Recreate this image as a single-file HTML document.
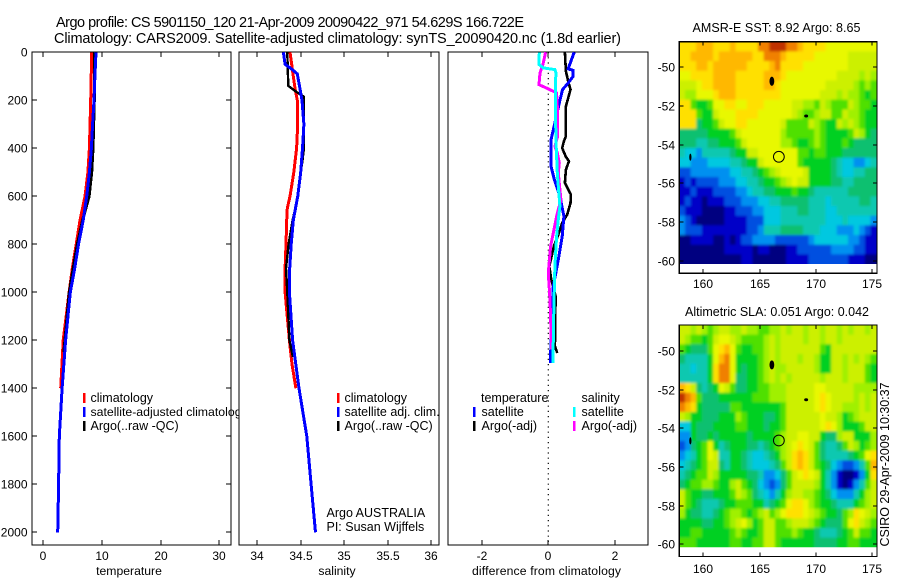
<!DOCTYPE html>
<html>
<head>
<meta charset="utf-8">
<title>Argo profile</title>
<style>
html,body{margin:0;padding:0;background:#fff;width:900px;height:580px;overflow:hidden}
svg{display:block}
text{font-family:"Liberation Sans",sans-serif;font-size:12.5px;fill:#000}
.t{font-size:14.5px}
.m{font-size:12.5px}
.k{font-size:12px}
.a{font-size:12.2px}
.f{fill:#fff;stroke:#000;stroke-width:1.3;shape-rendering:crispEdges}
</style>
</head>
<body>
<svg id="c" width="900" height="580" viewBox="0 0 900 580" xmlns="http://www.w3.org/2000/svg">
  <defs>
    <filter id="soft" x="-5%" y="-5%" width="110%" height="110%">
      <feGaussianBlur stdDeviation="1.2"/>
      <feComponentTransfer><feFuncA type="linear" slope="3"/></feComponentTransfer>
    </filter>
  </defs>
  <rect width="900" height="580" fill="#fff"/>
  <text class="t" x="56" y="27" textLength="468">Argo profile: CS 5901150_120 21-Apr-2009 20090422_971 54.629S 166.722E</text>
  <text class="t" x="54" y="43" textLength="567">Climatology: CARS2009. Satellite-adjusted climatology: synTS_20090420.nc (1.8d earlier)</text>

  <g>
    <rect class="f" x="32" y="52" width="199" height="493"/>
    <g id="p1"></g>
    <g>
      <rect x="83" y="393" width="2.5" height="10" fill="#f00"/>
      <rect x="83" y="407" width="2.5" height="10" fill="#00f"/>
      <rect x="83" y="421" width="2.5" height="10" fill="#000"/>
      <text x="90.5" y="402">climatology</text>
      <text x="90.5" y="416" style="font-size:12.3px">satellite-adjusted climatology</text>
      <text x="90.5" y="430">Argo(..raw -QC)</text>
    </g>
    <text class="a" x="129" y="575" text-anchor="middle">temperature</text>
  </g>

  <g>
    <rect class="f" x="239" y="52" width="200" height="493"/>
    <g id="p2"></g>
    <g>
      <rect x="337" y="393" width="2.5" height="10" fill="#f00"/>
      <rect x="337" y="407" width="2.5" height="10" fill="#00f"/>
      <rect x="337" y="421" width="2.5" height="10" fill="#000"/>
      <text x="344.5" y="402">climatology</text>
      <text x="344.5" y="416">satellite adj. clim.</text>
      <text x="344.5" y="430">Argo(..raw -QC)</text>
    </g>
    <text x="326.5" y="517">Argo AUSTRALIA</text>
    <text x="326.5" y="531">PI: Susan Wijffels</text>
    <text class="a" x="337" y="575" text-anchor="middle">salinity</text>
  </g>

  <g>
    <rect class="f" x="448" y="52" width="200" height="493"/>
    <g id="p3"></g>
    <g>
      <text x="481" y="402">temperature</text>
      <rect x="473" y="407" width="2.5" height="10" fill="#00f"/>
      <text x="481.5" y="416">satellite</text>
      <rect x="473" y="421" width="2.5" height="10" fill="#000"/>
      <text x="481.5" y="430">Argo(-adj)</text>
      <text x="581.5" y="402">salinity</text>
      <rect x="573" y="407" width="2.5" height="10" fill="#0ff"/>
      <text x="581.5" y="416">satellite</text>
      <rect x="573" y="421" width="2.5" height="10" fill="#f0f"/>
      <text x="581.5" y="430">Argo(-adj)</text>
    </g>
    <text class="a" x="472" y="575" textLength="149">difference from climatology</text>
  </g>

  <g>
    <text class="m" x="692.5" y="32" textLength="168">AMSR-E SST: 8.92 Argo: 8.65</text>
    <g id="m1"></g>
  </g>
  <g>
    <text class="m" x="685" y="316" textLength="184">Altimetric SLA: 0.051 Argo: 0.042</text>
    <g id="m2"></g>
  </g>
  <text transform="translate(889,546.5) rotate(-90)" textLength="164">CSIRO 29-Apr-2009 10:30:37</text>
</svg>

<script>
// ---- profile data (depth in dbar) ----
const tempClimDepth = [0,200,400,500,600,700,800,900,1000,1200,1400];
const tempClim = [8.25,8.08,7.85,7.6,7.1,6.25,5.6,4.95,4.4,3.4,2.97];
const tempSatDepth = [0,100,200,300,400,500,600,700,800,900,1000,1200,1400,1600,1800,2000];
const tempSat = [8.98,8.8,8.65,8.4,8.2,7.85,7.4,6.8,6.0,5.35,4.6,3.8,3.2,2.73,2.6,2.45];
const tempArgoDepth = [0,200,400,500,600,700,800,900,1000,1250];
const tempArgo = [8.75,8.7,8.47,8.25,7.8,6.7,5.8,5.1,4.43,3.5];

const salClimDepth = [0,50,100,150,200,300,400,500,600,650,700,800,900,1000,1200,1300,1400];
const salClim = [34.376,34.396,34.415,34.434,34.46,34.465,34.453,34.42,34.377,34.345,34.338,34.33,34.32,34.32,34.37,34.40,34.445];
const salSatDepth = [0,50,70,90,150,200,300,400,500,600,700,800,900,1000,1200,1400,1600,1800,2000];
const salSat = [34.30,34.32,34.396,34.46,34.49,34.515,34.537,34.52,34.50,34.465,34.415,34.39,34.373,34.37,34.407,34.48,34.57,34.62,34.67];
const salArgoDepth = [0,100,140,165,185,400,450,500,600,700,800,900,1000,1200,1270];
const salArgo = [34.345,34.354,34.357,34.45,34.537,34.537,34.52,34.50,34.47,34.407,34.36,34.33,34.345,34.37,34.41];

const dtDepth = [0,79,121,155,190,225,350,371,399,433,454,489,544,593,628,676,711,760,808,892,947,1017,1225,1253];
const dtArgo = [0.50,0.53,0.60,0.67,0.60,0.53,0.53,0.47,0.42,0.52,0.62,0.53,0.50,0.68,0.67,0.57,0.42,0.30,0.17,0.03,0.09,0.22,0.20,0.27];
const dtSatDepth = [0,37,69,75,100,128,155,211,294,364,475,530,600,683,767,864,975,1058,1294];
const dtSat = [0.78,0.68,0.60,0.75,0.75,0.60,0.43,0.33,0.20,0.08,0.08,0.18,0.35,0.47,0.42,0.30,0.15,0.12,0.06];
const dsSatDepth = [0,51,65,72,86,155,364,503,642,697,767,892,1058,1294];
const dsSat = [-0.27,-0.28,-0.15,0.20,0.23,0.21,0.23,0.27,0.35,0.30,0.25,0.20,0.17,0.14];
const dsArgoDepth = [0,44,86,135,149,169,225,350,392,419,461,503,572,614,683,753,808,919,1031,1239];
const dsArgo = [-0.08,-0.15,-0.25,-0.28,-0.05,0.25,0.27,0.28,0.20,0.27,0.33,0.30,0.35,0.38,0.25,0.15,0.07,0,0.05,0.10];

const depthTicks = [0,200,400,600,800,1000,1200,1400,1600,1800,2000];
const tempTicks = [0,10,20,30];
const salTicks = [34,34.5,35,35.5,36];
const diffTicks = [-2,0,2];
const lonTicks = [160,165,170,175];
const latTicks = [50,52,54,56,58,60];

// ---- map colour levels: 0 = lowest ... f = highest; rows run north to south, columns west to east ----
const sstRows = [
"cccdddcccdcccceefffeedccccbbbbbbbbb",
"ccddddcddddddcceeedcccccbbbbbbaaaaa",
"cccddcddddddccccdeccccbbbbbbbbaaaaa",
"bbccccddddcccccdddcbbbbbbbbbaaaa9a9",
"aaabccddddcccccddcbbbbbbbbaaaaa9898",
"a99bbbcdddccccccccbbbbbbbaaa9a99878",
"cc8778bbccbbcccbbbbbaa998a9888a9887",
"ccc877abbbccccbbbbbba9889aa88a99877",
"ccc6778abbccbbbbbba8888a9877a9a9877",
"6666677778abbbbbbb9888889877778a976",
"66655667778abbbbbb99877898777876666",
"544355555677aabbbbbbb88788777666666",
"44333444455677abbbbbb87777765443345",
"22333333344556789abbbba777765445566",
"1212222333445567789abaa777766556666",
"11211122223345566777877655555566666",
"12110111222333445566666555455555665",
"21110000112223344455566555445555555",
"32100000111122244455555555444544443",
"32221111111122355566665554443334321",
"00111100101223333222222344444433211",
"00000000111110110001122222233332211",
"00000000000110000001111222222211100"
];
const slaRows = [
"aa9a989aa99a998899a9aa9aa9aa9a9aa9a",
"a98878abba98888" + "9a9aaaa9aa9aa9aaaaaa",
"876668bcdb87788" + "9a9aaaaaaa87aaaaaaa",
"655557bdeb77778" + "9a9aaa9aa977aa9a9a98",
"554557ceeb76778" + "9a99aaaaa977aa9aaa87",
"555557ceeb66778" + "9a9a9aaaaa9aaa9aaa87",
"dca6567ba866778" + "8999aaaaabbaaaaa9999",
"fed8666777777" + "88" + "8999aaaaabcbaaaa9a9a",
"edc7666668" + "87777" + "7778aaaaabcbaa999a9a",
"a977666777" + "98777" + "6678aaaaaabaa9789aaa",
"447666777788777" + "6778aaaaaabcb97778aa",
"337667677777677" + "7789aabbaa7669aa7779",
"23678b756777665" + "6789abcba865568a9789",
"34578ba5577654" + "4" + "5679acdca865555678bc",
"45678aa6577654" + "4" + "4568acdca87643223 58d".split(" ").join(""),
"56788a97777766" + "5" + "33468abcba753100137c",
"678899877" + "9a87" + "6432368aaaa975310" + "1358a",
"a877667778a986" + "5" + "43579aa99876433" + "3579a",
"a87655567788877" + "5678bccb98776555789a",
"976655678998789" + "a89bcccba9877689cba9".slice(0,20),
"7777667789ab978" + "aa889aaa9876668bca98",
"778877777898778" + "aa88898776555678a887",
"888777777887788" + "aa87777776666778877 7".split(" ").join("")
];
const levelColors = {"0":"#000080","1":"#0000c8","2":"#0050e0","3":"#0090f0","4":"#00c8e0","5":"#10c8b0","6":"#10c070","7":"#00d020","8":"#50e000","9":"#a0f000","a":"#ccf000","b":"#e8f800","c":"#ffe000","d":"#ffb800","e":"#f08000","f":"#c03000"};

const SVGNS = "http://www.w3.org/2000/svg";
const DEPTH_TOP = 52.3, DEPTH_SCALE = 0.24;
const yDepth = d => DEPTH_TOP + d * DEPTH_SCALE;

function make(tag, parent, attrs, txt) {
  const el = document.createElementNS(SVGNS, tag);
  for (const k in attrs) el.setAttribute(k, attrs[k]);
  if (txt !== undefined) el.textContent = txt;
  parent.appendChild(el);
  return el;
}

function drawSeries(parent, name, depths, vals, xf, color, w) {
  const pts = depths.map((d, i) => xf(vals[i]).toFixed(1) + "," + yDepth(d).toFixed(1)).join(" ");
  const el = make("polyline", parent, {points: pts, fill: "none", stroke: color, "stroke-width": w, "shape-rendering": "crispEdges"});
  
  
}

function line(parent, name, x1, y1, x2, y2) {
  const el = make("line", parent, {x1, y1, x2, y2, stroke: "#000", "stroke-width": 1, "shape-rendering": "crispEdges"});
  
  
}

function label(parent, name, x, y, anchor, s) {
  const el = make("text", parent, {x, y, "text-anchor": anchor, class: "k"}, s);
  
  
}

function xAxis(parent, ticks, xf, top, bottom) {
  ticks.forEach(t => {
    const x = Math.round(xf(t));
    line(parent, "x-tick-top", x, top, x, top + 5);
    line(parent, "x-tick-bottom", x, bottom - 5, x, bottom);
    label(parent, "x-tick-label", x, 560, "middle", String(t));
  });
}

// Temperature
const xTemp = v => 43.3 + v * 5.867;
const p1 = document.getElementById("p1");
drawSeries(p1, "temperature-climatology-line", tempClimDepth, tempClim, xTemp, "#f00", 3);
drawSeries(p1, "temperature-argo-line", tempArgoDepth, tempArgo, xTemp, "#000", 3);
drawSeries(p1, "temperature-satellite-line", tempSatDepth, tempSat, xTemp, "#00f", 3);
xAxis(p1, tempTicks, xTemp, 52, 545);
depthTicks.forEach(d => {
  const y = Math.round(yDepth(d));
  line(p1, "depth-tick-left", 32, y, 37, y);
  line(p1, "depth-tick-right", 226, y, 231, y);
  label(p1, "depth-tick-label", 27.5, y + 4.5, "end", String(d));
});

// Salinity
const xSal = v => 257.3 + (v - 34) * 86.85;
const p2 = document.getElementById("p2");
drawSeries(p2, "salinity-climatology-line", salClimDepth, salClim, xSal, "#f00", 3);
drawSeries(p2, "salinity-argo-line", salArgoDepth, salArgo, xSal, "#000", 2.4);
drawSeries(p2, "salinity-satellite-line", salSatDepth, salSat, xSal, "#00f", 3);
xAxis(p2, salTicks, xSal, 52, 545);

// Difference
const xDiff = v => 548.3 + v * 33.2;
const p3 = document.getElementById("p3");
const zero = make("line", p3, {x1: xDiff(0), y1: 52, x2: xDiff(0), y2: 545, stroke: "#000", "stroke-width": 1.2, "stroke-dasharray": "1.2 4"});


drawSeries(p3, "difference-temperature-argo-line", dtDepth, dtArgo, xDiff, "#000", 2.6);
drawSeries(p3, "difference-temperature-satellite-line", dtSatDepth, dtSat, xDiff, "#00f", 3);
drawSeries(p3, "difference-salinity-argo-line", dsArgoDepth, dsArgo, xDiff, "#f0f", 3);
drawSeries(p3, "difference-salinity-satellite-line", dsSatDepth, dsSat, xDiff, "#0ff", 3);
xAxis(p3, diffTicks, xDiff, 52, 545);

// Maps
function drawMap(parent, id, rows, top, lat50y, labelY) {
  const xLon = lon => 703.3 + (lon - 160) * 11.24;
  const yLat = lat => lat50y + (lat - 50) * 19.33;
  const box = {l: 679.3, r: 877, t: top, b: top + 231.5};
  const latTop = 50 - (lat50y - top) / 19.33;
  const dataBottom = yLat(latTop + rows.length * 0.5);
  const clip = make("clipPath", parent, {id: id + "-clip"});
  make("rect", clip, {x: box.l, y: box.t, width: box.r - box.l, height: dataBottom - box.t});
  const clipG = make("g", parent, {"clip-path": "url(#" + id + "-clip)"});
  
  
  const cells = make("g", clipG, {filter: "url(#soft)"});
  
  
  rows.forEach((row, i) => {
    for (let j = 0; j < 35; j++) {
      const ch = row.charAt(Math.min(j, row.length - 1));
      const x0 = xLon(157.87 + j * 0.5), x1 = xLon(157.87 + (j + 1) * 0.5);
      const y0 = yLat(latTop + i * 0.5), y1 = yLat(latTop + (i + 1) * 0.5);
      const cell = make("rect", cells, {x: x0.toFixed(1), y: y0.toFixed(1), width: (x1 - x0 + 0.4).toFixed(1), height: (y1 - y0 + 0.4).toFixed(1), fill: levelColors[ch]});
      
      
    }
  });
  const frame = make("rect", parent, {x: box.l, y: box.t, width: box.r - box.l, height: box.b - box.t, fill: "none", stroke: "#000", "stroke-width": 1.3, "shape-rendering": "crispEdges"});
  
  
  lonTicks.forEach(t => {
    const x = Math.round(xLon(t));
    line(parent, "lon-tick-top", x, box.t, x, box.t + 4);
    line(parent, "lon-tick-bottom", x, box.b - 4, x, box.b);
    label(parent, "lon-tick-label", x, labelY, "middle", String(t));
  });
  latTicks.forEach(t => {
    const y = Math.round(yLat(t));
    line(parent, "lat-tick-left", box.l, y, box.l + 4, y);
    line(parent, "lat-tick-right", box.r - 4, y, box.r, y);
    label(parent, "lat-tick-label", 675, y + 4.5, "end", "-" + t);
  });
  const islands = [[166.1, 50.72, 2.4, 4.6, "auckland-island"], [169.15, 52.52, 2, 1.5, "campbell-island"], [158.85, 54.65, 1.1, 3.6, "macquarie-island"]];
  islands.forEach(a => {
    const e = make("ellipse", parent, {cx: xLon(a[0]), cy: yLat(a[1]), rx: a[2], ry: a[3], fill: "#000"});
    
    
  });
  const c = make("circle", parent, {cx: xLon(166.722), cy: yLat(54.629), r: 5.4, fill: "none", stroke: "#000", "stroke-width": 1});
  
  
}
drawMap(document.getElementById("m1"), "m1", sstRows, 41.7, 67.3, 288);
drawMap(document.getElementById("m2"), "m2", slaRows, 325, 351, 573);
</script>
</body>
</html>
